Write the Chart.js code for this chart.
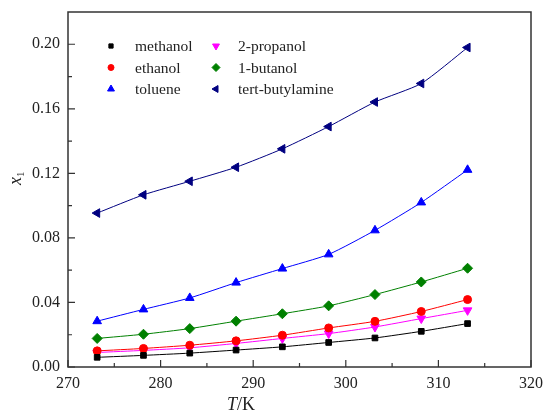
<!DOCTYPE html>
<html>
<head>
<meta charset="utf-8">
<script src="https://cdn.jsdelivr.net/npm/chart.js@4.4.0/dist/chart.umd.min.js"></script>
<style>
  html, body { margin: 0; padding: 0; background: #fff; }
  #wrap { width: 545px; height: 416px; }
</style>
</head>
<body>
<div id="wrap"><canvas id="solubility"></canvas></div>
<script>
// temperatures (K) and mole fraction solubility x1
const temps = [273.15, 278.15, 283.15, 288.15, 293.15, 298.15, 303.15, 308.15, 313.15];

const methanol = [0.0060, 0.0072, 0.0086, 0.0105, 0.0125, 0.0152, 0.0180, 0.0221, 0.0269];
const ethanol = [0.0100, 0.0115, 0.0135, 0.0162, 0.0197, 0.0242, 0.0283, 0.0344, 0.0418];
const toluene = [0.0284, 0.0357, 0.0428, 0.0523, 0.0610, 0.0698, 0.0847, 0.1020, 0.1222];
const propanol2 = [0.0090, 0.0103, 0.0119, 0.0146, 0.0177, 0.0207, 0.0248, 0.0300, 0.0351];
const butanol1 = [0.0177, 0.0203, 0.0238, 0.0284, 0.0330, 0.0379, 0.0449, 0.0527, 0.0612];
const tertButylamine = [0.0954, 0.1067, 0.1151, 0.1238, 0.1352, 0.1490, 0.1642, 0.1757, 0.1980];

const xTicks = [270, 280, 290, 300, 310, 320];
const xMinor = [275, 285, 295, 305, 315];
const yTicks = [0.00, 0.04, 0.08, 0.12, 0.16, 0.20];
const yMinor = [0.02, 0.06, 0.10, 0.14, 0.18];

const SERIF = '"Liberation Serif", "Times New Roman", "DejaVu Serif", serif';

function series(label, values, color, style, rotation, radius) {
    return {
        label: label,
        data: values.map((v, i) => ({ x: temps[i], y: v })),
        borderColor: color,
        backgroundColor: color,
        borderWidth: 1,
        pointStyle: style,
        rotation: rotation,
        pointRadius: radius,
        pointBorderWidth: 1,
        tension: 0.2,
        fill: false
    };
}

const datasets = [
    series('methanol', methanol, '#000000', 'rect', 0, 4),
    series('ethanol', ethanol, '#ff0000', 'circle', 0, 4),
    series('toluene', toluene, '#0000ff', 'triangle', 0, 5),
    series('2-propanol', propanol2, '#ff00ff', 'triangle', 180, 5),
    series('1-butanol', butanol1, '#008000', 'rectRot', 0, 5),
    series('tert-butylamine', tertButylamine, '#000080', 'triangle', 270, 5)
];

// frame, inward ticks, axis titles and in-plot legend
const framePlugin = {
    id: 'frame',
    afterDraw(chart) {
        const { ctx, chartArea: a, scales } = chart;
        const xs = scales.x, ys = scales.y;
        ctx.save();
        ctx.strokeStyle = '#333';
        ctx.lineWidth = 1.5;
        ctx.strokeRect(a.left, a.top, a.right - a.left, a.bottom - a.top);

        ctx.lineWidth = 1.2;
        ctx.beginPath();
        xTicks.forEach(v => {
            const p = xs.getPixelForValue(v);
            ctx.moveTo(p, a.bottom); ctx.lineTo(p, a.bottom - 7);
        });
        xMinor.forEach(v => {
            const p = xs.getPixelForValue(v);
            ctx.moveTo(p, a.bottom); ctx.lineTo(p, a.bottom - 4);
        });
        yTicks.forEach(v => {
            const p = ys.getPixelForValue(v);
            ctx.moveTo(a.left, p); ctx.lineTo(a.left + 7, p);
        });
        yMinor.forEach(v => {
            const p = ys.getPixelForValue(v);
            ctx.moveTo(a.left, p); ctx.lineTo(a.left + 4, p);
        });
        ctx.stroke();

        // x title: T/K
        ctx.fillStyle = '#222';
        ctx.textBaseline = 'middle';
        ctx.font = 'italic 18px ' + SERIF;
        const tw = ctx.measureText('T').width;
        ctx.font = '18px ' + SERIF;
        const kw = ctx.measureText('/K').width;
        const cx = 241;
        let sx = cx - (tw + kw) / 2;
        ctx.font = 'italic 18px ' + SERIF;
        ctx.textAlign = 'left';
        ctx.fillText('T', sx, 405);
        ctx.font = '18px ' + SERIF;
        ctx.fillText('/K', sx + tw, 405);

        // y title: x1 (rotated)
        ctx.save();
        ctx.translate(16, 178);
        ctx.rotate(-Math.PI / 2);
        ctx.font = 'italic 18px ' + SERIF;
        const xw = ctx.measureText('x').width;
        ctx.fillText('x', -xw / 2 - 3, 0);
        ctx.font = '11px ' + SERIF;
        ctx.fillText('1', xw / 2 - 3, 5);
        ctx.restore();

        // legend, two columns
        const cols = [{ mx: 111, tx: 135 }, { mx: 216, tx: 238 }];
        const rowY = [46, 67.5, 89];
        ctx.font = '15.5px ' + SERIF;
        ctx.textAlign = 'left';
        chart.data.datasets.forEach((ds, i) => {
            const c = cols[Math.floor(i / 3)];
            const y = rowY[i % 3];
            ctx.fillStyle = ds.backgroundColor;
            ctx.strokeStyle = ds.borderColor;
            ctx.lineWidth = 1;
            Chart.helpers.drawPoint(ctx, {
                pointStyle: ds.pointStyle,
                rotation: ds.rotation,
                radius: ds.pointRadius - 1,
                borderWidth: 1
            }, c.mx, y);
            ctx.fillStyle = '#222';
            ctx.fillText(ds.label, c.tx, y + 1);
        });
        ctx.restore();
    }
};

new Chart(document.getElementById('solubility'), {
    type: 'line',
    data: { datasets: datasets },
    options: {
        responsive: true,
        maintainAspectRatio: false,
        animation: false,
        layout: { padding: { left: 0, right: 14, top: 12, bottom: 0 } },
        plugins: {
            legend: { display: false },
            tooltip: { enabled: false }
        },
        scales: {
            x: {
                type: 'linear',
                min: 270,
                max: 320,
                afterBuildTicks: s => { s.ticks = xTicks.map(v => ({ value: v })); },
                afterFit: s => {
                    s.height = 49;
                    s.paddingLeft = 0;
                    s.paddingRight = 0;
                },
                grid: { display: false, drawTicks: false },
                border: { display: false },
                ticks: {
                    color: '#222',
                    padding: 7,
                    maxRotation: 0,
                    font: { family: SERIF, size: 16 },
                    callback: v => String(v)
                }
            },
            y: {
                type: 'linear',
                min: 0,
                max: 0.22,
                afterBuildTicks: s => { s.ticks = yTicks.map(v => ({ value: v })); },
                afterFit: s => {
                    s.width = 68;
                    s.paddingTop = 0;
                    s.paddingBottom = 0;
                },
                grid: { display: false, drawTicks: false },
                border: { display: false },
                ticks: {
                    color: '#222',
                    padding: 8,
                    font: { family: SERIF, size: 16 },
                    callback: v => v.toFixed(2)
                }
            }
        }
    },
    plugins: [framePlugin]
});
</script>
</body>
</html>
